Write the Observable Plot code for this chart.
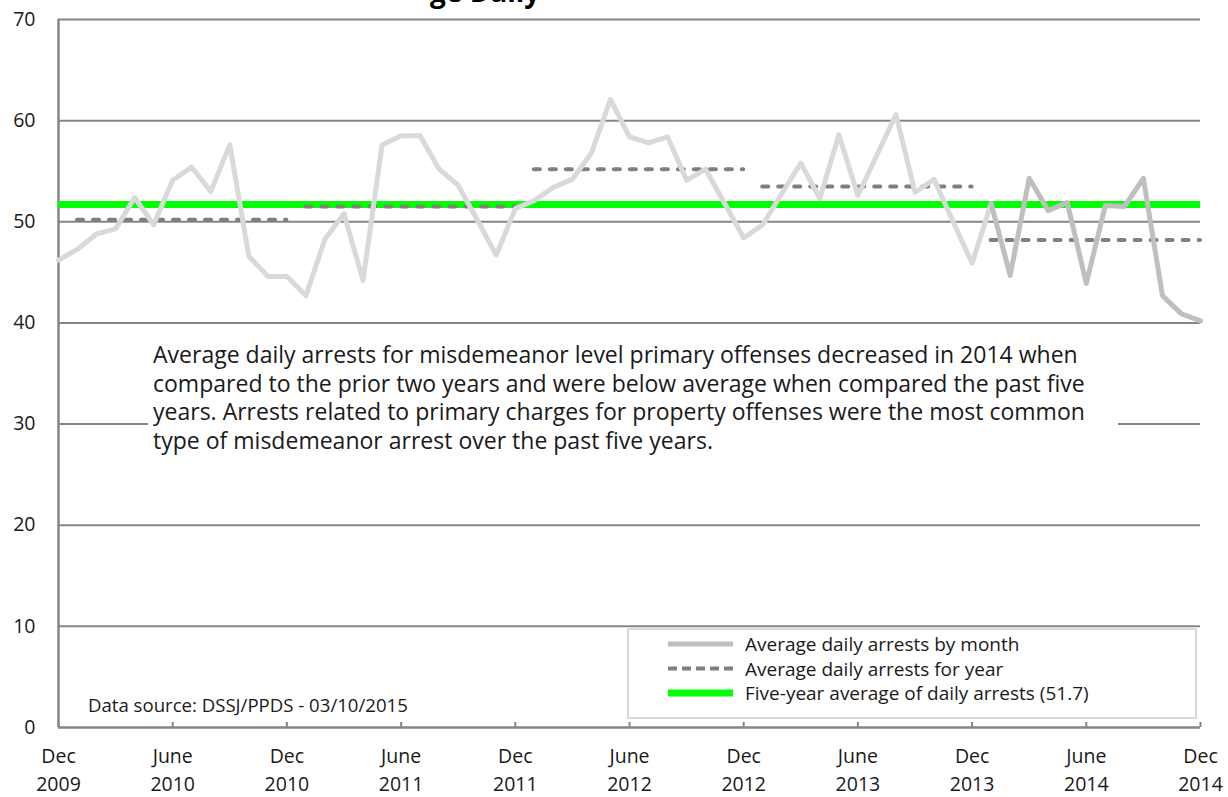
<!DOCTYPE html>
<html>
<head>
<meta charset="utf-8">
<script src="https://cdn.jsdelivr.net/npm/d3@7"></script>
<script src="https://cdn.jsdelivr.net/npm/@observablehq/plot@0.6"></script>
<style>
  html, body { margin: 0; padding: 0; background: #fff; }
  #wrap { position: relative; width: 1228px; height: 797px; overflow: hidden; font-family: "Open Sans", sans-serif; color: #1a1a1a; }
  #wrap svg { position: absolute; left: 0; top: 0; }
  .ov { position: absolute; white-space: pre; }
</style>
</head>
<body>
<div id="wrap"></div>
<script>
// ---- Data (Dec 2009 .. Dec 2014, one value per month) ----
const monthIndex = d3.range(0, 61); // 0 = Dec 2009, 60 = Dec 2014
const monthlyArrests = [
  46.2, 47.3, 48.8, 49.3, 52.4, 49.7, 54.1, 55.4, 53.0, 57.6, 46.6, 44.6, 44.6,
  42.7, 48.3, 50.8, 44.2, 57.6, 58.5, 58.5, 55.2, 53.6, 50.2, 46.7, 51.3,
  52.1, 53.4, 54.2, 56.8, 62.1, 58.4, 57.8, 58.4, 54.1, 55.2, 51.8, 48.4,
  49.7, 52.8, 55.8, 52.3, 58.6, 52.6, 56.6, 60.6, 52.9, 54.2, 50.0, 45.9,
  51.8, 44.7, 54.3, 51.1, 51.9, 43.9, 51.6, 51.5, 54.3, 42.7, 40.9, 40.2
];
const years = [2010, 2011, 2012, 2013, 2014];
const yearStartIdx = [1, 13, 25, 37, 49];
const yearEndIdx = [12, 24, 36, 48, 60];
const yearlyAvg = [50.2, 51.5, 55.2, 53.5, 48.2];
const fiveYearAvg = 51.7;
const currentYearStartIdx = 49; // Jan 2014
const xTickIdx = [0, 6, 12, 18, 24, 30, 36, 42, 48, 54, 60];
const xTickMonth = ["Dec", "June", "Dec", "June", "Dec", "June", "Dec", "June", "Dec", "June", "Dec"];
const xTickYear = ["2009", "2010", "2010", "2011", "2011", "2012", "2012", "2013", "2013", "2014", "2014"];
const yTicks = [0, 10, 20, 30, 40, 50, 60, 70];
const legendLabels = [
  "Average daily arrests by month",
  "Average daily arrests for year",
  "Five-year average of daily arrests (51.7)"
];
const noteLines = [
  "Average daily arrests for misdemeanor level primary offenses decreased in 2014 when",
  "compared to the prior two years and were below average when compared the past five",
  "years. Arrests related to primary charges for property offenses were the most common",
  "type of misdemeanor arrest over the past five years."
];
const sourceText = "Data source: DSSJ/PPDS - 03/10/2015";
const titleFragment = "ge Daily";

// ---- helpers ----
const FAM = '"Open Sans", sans-serif';
const cv = document.createElement("canvas").getContext("2d");
function fit(text, target, weight = "normal") {
  cv.font = `${weight} 100px ${FAM}`;
  return 100 * target / cv.measureText(text).width;
}

const monthly = monthIndex.map((i) => ({i, v: monthlyArrests[i]}));
const yearly = years.map((y, k) => ({year: y, x1: yearStartIdx[k], x2: yearEndIdx[k], avg: yearlyAvg[k]}));

const axisFont = 19.5;
const GRID = "#868686";

const chart = Plot.plot({
  width: 1228,
  height: 797,
  marginLeft: 58,
  marginRight: 28,
  marginTop: 19,
  marginBottom: 70,
  style: {fontFamily: FAM, background: "transparent", color: "#1a1a1a"},
  x: {domain: [0, 60], axis: null},
  y: {domain: [0, 70], axis: null},
  marks: [
    Plot.ruleY(yTicks.filter(d => d > 0), {y: d => d, stroke: GRID, strokeWidth: 2}),
    Plot.ruleY([0], {stroke: GRID, strokeWidth: 2.5}),
    Plot.ruleX([0], {y1: 0, y2: 70, stroke: GRID, strokeWidth: 2.5}),
    Plot.ruleX(xTickIdx, {x: d => d, y1: 0, y2: 0.5, stroke: GRID, strokeWidth: 2}),
    Plot.ruleY([fiveYearAvg], {x1: 0, x2: 60, y: d => d, stroke: "#00ff00", strokeWidth: 7}),
    Plot.ruleY(yearly, {x1: "x1", x2: "x2", y: "avg", stroke: "#7f7f7f", strokeWidth: 4,
      strokeDasharray: "6,10", strokeLinecap: "round"}),
    Plot.line(monthly.filter(d => d.i <= currentYearStartIdx), {x: "i", y: "v", stroke: "#d9d9d9",
      strokeWidth: 5, strokeLinejoin: "round", strokeLinecap: "round"}),
    Plot.line(monthly.filter(d => d.i >= currentYearStartIdx), {x: "i", y: "v", stroke: "#bfbfbf",
      strokeWidth: 5, strokeLinejoin: "round", strokeLinecap: "round"}),
    Plot.text(yTicks, {y: d => d, frameAnchor: "left", dx: -23, textAnchor: "end",
      text: d => String(d), fontSize: axisFont, fill: "#1a1a1a"}),
    Plot.text(xTickIdx, {x: d => d, frameAnchor: "bottom", dy: 29, lineAnchor: "middle",
      text: (d, k) => xTickMonth[k], fontSize: axisFont, fill: "#1a1a1a"}),
    Plot.text(xTickIdx, {x: d => d, frameAnchor: "bottom", dy: 57, lineAnchor: "middle",
      text: (d, k) => xTickYear[k], fontSize: axisFont, fill: "#1a1a1a"})
  ]
});

const wrap = document.getElementById("wrap");
wrap.appendChild(chart);

// Title (only its lower edge is visible at the top of the picture)
const tSize = 28;
const title = document.createElement("div");
title.className = "ov";
title.textContent = titleFragment;
title.style.cssText += `left:430px; top:${5 - tSize}px; font-size:${tSize}px; font-weight:bold; line-height:${tSize}px; color:#000;`;
wrap.appendChild(title);

// Annotation box
const noteSize = fit(noteLines[0], 925);
const note = document.createElement("div");
note.className = "ov";
note.style.cssText += `left:148px; top:337px; width:970px; height:122px; background:#fff; box-sizing:border-box; padding:3px 0 0 5px; font-size:${noteSize}px; line-height:28.5px;`;
note.textContent = noteLines.join("\n");
wrap.appendChild(note);

// Legend
const legSize = Math.min(19, fit(legendLabels[2], 383));
const leg = document.createElement("div");
leg.className = "ov";
leg.style.cssText += `left:627px; top:628px; width:570px; height:91px; background:#fff; border:2px solid #d9d9d9; box-sizing:border-box;`;
const rowsY = [16, 40.5, 65];
const swatch = [
  {stroke: "#bfbfbf", w: 5, dash: null},
  {stroke: "#7f7f7f", w: 4, dash: "9,5"},
  {stroke: "#00ff00", w: 7, dash: null}
];
const ns = "http://www.w3.org/2000/svg";
const ls = document.createElementNS(ns, "svg");
ls.setAttribute("width", 570); ls.setAttribute("height", 91);
ls.style.cssText = "position:absolute; left:-2px; top:-2px;";
legendLabels.forEach((lab, k) => {
  const ln = document.createElementNS(ns, "line");
  ln.setAttribute("x1", 41); ln.setAttribute("x2", 106);
  ln.setAttribute("y1", rowsY[k]); ln.setAttribute("y2", rowsY[k]);
  ln.setAttribute("stroke", swatch[k].stroke); ln.setAttribute("stroke-width", swatch[k].w);
  if (swatch[k].dash) ln.setAttribute("stroke-dasharray", swatch[k].dash);
  ls.appendChild(ln);
  const tx = document.createElementNS(ns, "text");
  tx.setAttribute("x", 118); tx.setAttribute("y", rowsY[k]);
  tx.setAttribute("dominant-baseline", "central");
  tx.setAttribute("font-family", FAM); tx.setAttribute("font-size", legSize);
  tx.setAttribute("fill", "#1a1a1a");
  tx.textContent = lab;
  ls.appendChild(tx);
});
leg.appendChild(ls);
wrap.appendChild(leg);

// Data source
const srcSize = fit(sourceText, 320);
const src = document.createElement("div");
src.className = "ov";
src.style.cssText += `left:88px; top:${705 - srcSize * 0.7}px; font-size:${srcSize}px; line-height:${srcSize * 1.4}px;`;
src.textContent = sourceText;
wrap.appendChild(src);
</script>
</body>
</html>
